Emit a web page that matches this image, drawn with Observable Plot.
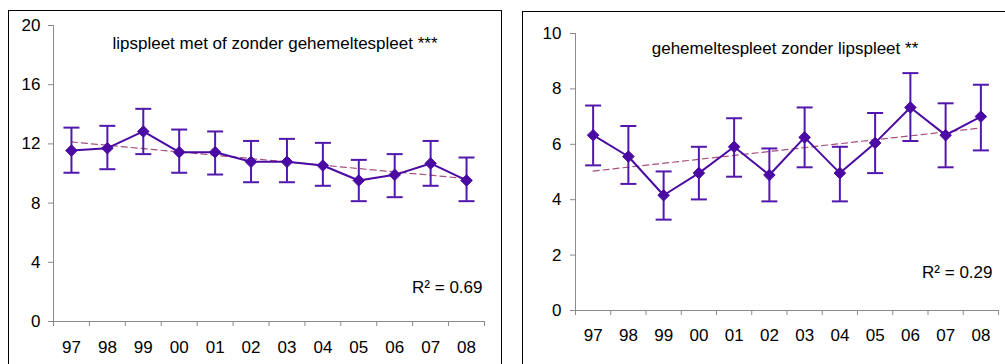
<!DOCTYPE html>
<html>
<head>
<meta charset="utf-8">
<script src="https://cdn.jsdelivr.net/npm/d3@7"></script>
<script src="https://cdn.jsdelivr.net/npm/@observablehq/plot@0.6"></script>
<style>
  html, body { margin: 0; padding: 0; background: #fff; }
  #wrap { position: relative; width: 1005px; height: 364px; overflow: hidden; background: #fff; font-family: "Liberation Sans", Arial, sans-serif; }
  .panel { position: absolute; top: 0; }
  .box { position: absolute; box-sizing: border-box; border: 1px solid #000; border-bottom: none; pointer-events: none; }
</style>
</head>
<body>
<div id="wrap">
  <div class="panel" id="left" style="left:0px;"></div>
  <div class="panel" id="right" style="left:522px;"></div>
  <div class="box" style="left:8px; top:10px; width:494px; height:400px;"></div>
  <div class="box" style="left:522px; top:11px; width:600px; height:400px;"></div>
</div>
<script>
// ---- data ----
const years = ["97","98","99","00","01","02","03","04","05","06","07","08"];

const lipTitle = "lipspleet met of zonder gehemeltespleet ***";
const lipR2 = "R² = 0.69";
const lipMean = [11.55, 11.71, 12.84, 11.44, 11.44, 10.79, 10.79, 10.54, 9.53, 9.91, 10.68, 9.53];
const lipLow  = [10.05, 10.29, 11.31, 10.05, 9.93, 9.41, 9.41, 9.17, 8.13, 8.40, 9.17, 8.13];
const lipHigh = [13.10, 13.22, 14.37, 12.97, 12.84, 12.20, 12.34, 12.07, 10.92, 11.31, 12.20, 11.08];
const lipTicks = [0, 4, 8, 12, 16, 20];

const palTitle = "gehemeltespleet zonder lipspleet **";
const palR2 = "R² = 0.29";
const palMean = [6.33, 5.56, 4.16, 4.96, 5.91, 4.89, 6.25, 4.96, 6.05, 7.33, 6.33, 7.00];
const palLow  = [5.24, 4.57, 3.28, 4.01, 4.83, 3.94, 5.17, 3.94, 4.96, 6.12, 5.17, 5.78];
const palHigh = [7.40, 6.66, 5.02, 5.91, 6.94, 5.85, 7.33, 5.91, 7.13, 8.57, 7.48, 8.15];
const palTicks = [0, 2, 4, 6, 8, 10];

// ---- styling ----
const purple = "#4a0aa3";
const barPurple = "#5218ad";
const trendColor = "#a6507c";
const axisGray = "#8a8a8a";
const capSymbol = { draw(ctx) { ctx.moveTo(-8, 0); ctx.lineTo(8, 0); } };

function panel(o) {
  const rows = years.map((y, i) => ({ i, year: y, mean: o.mean[i], low: o.low[i], high: o.high[i] }));
  return Plot.plot({
    width: o.width,
    height: o.height,
    marginLeft: o.ml, marginRight: o.mr, marginTop: o.mt, marginBottom: o.mb,
    style: { background: "transparent", fontFamily: "'Liberation Sans', Arial, sans-serif", fontSize: "17px", color: "#000", maxWidth: "none" },
    x: { domain: [-0.5, 11.5] },
    y: { domain: [0, o.ticks[o.ticks.length - 1]] },
    marks: [
      Plot.ruleX([-0.5], { stroke: axisGray }),
      Plot.ruleY([0], { stroke: axisGray }),
      Plot.axisY({ ticks: o.ticks, tickSize: 5, tickPadding: o.yPad, stroke: axisGray, fill: "#000", label: null, fontSize: 17 }),
      Plot.axisX({ ticks: d3.range(-0.5, 12, 1), tickSize: 5, tickFormat: () => "", stroke: axisGray, label: null }),
      Plot.axisX({ ticks: d3.range(12), tickSize: 0, tickPadding: o.xPad, tickFormat: i => years[i], fill: "#000", label: null, fontSize: 17 }),
      Plot.linearRegressionY(rows, { x: "i", y: "mean", ci: 0, stroke: trendColor, strokeWidth: 1.2, strokeDasharray: "6,4" }),
      Plot.ruleX(rows, { x: "i", y1: "low", y2: "high", stroke: barPurple, strokeWidth: 2 }),
      Plot.dot(rows, { x: "i", y: "low", symbol: capSymbol, fill: "none", stroke: barPurple, strokeWidth: 2 }),
      Plot.dot(rows, { x: "i", y: "high", symbol: capSymbol, fill: "none", stroke: barPurple, strokeWidth: 2 }),
      Plot.line(rows, { x: "i", y: "mean", stroke: purple, strokeWidth: 2 }),
      Plot.dot(rows, { x: "i", y: "mean", symbol: "diamond2", r: 5.2, fill: purple, stroke: purple, strokeWidth: 1 }),
      Plot.text([o.title], { frameAnchor: "top", dx: o.tdx, dy: o.tdy, lineAnchor: "middle", fontSize: 17, fill: "#000" }),
      Plot.text([o.r2], { frameAnchor: "bottom-right", textAnchor: "end", lineAnchor: "middle", dx: o.rdx, dy: o.rdy, fontSize: 17, fill: "#000" })
    ]
  });
}

document.getElementById("left").append(panel({
  mean: lipMean, low: lipLow, high: lipHigh, ticks: lipTicks, title: lipTitle, r2: lipR2,
  width: 502, height: 364, ml: 53, mr: 18, mt: 25, mb: 43,
  yPad: 8, xPad: 19, tdx: 6, tdy: 18, rdx: -2, rdy: -34
}));
document.getElementById("right").append(panel({
  mean: palMean, low: palLow, high: palHigh, ticks: palTicks, title: palTitle, r2: palR2,
  width: 483, height: 364, ml: 53, mr: 7, mt: 33, mb: 54,
  yPad: 9, xPad: 18, tdx: -2, tdy: 15, rdx: -6, rdy: -38
}));
</script>
</body>
</html>
